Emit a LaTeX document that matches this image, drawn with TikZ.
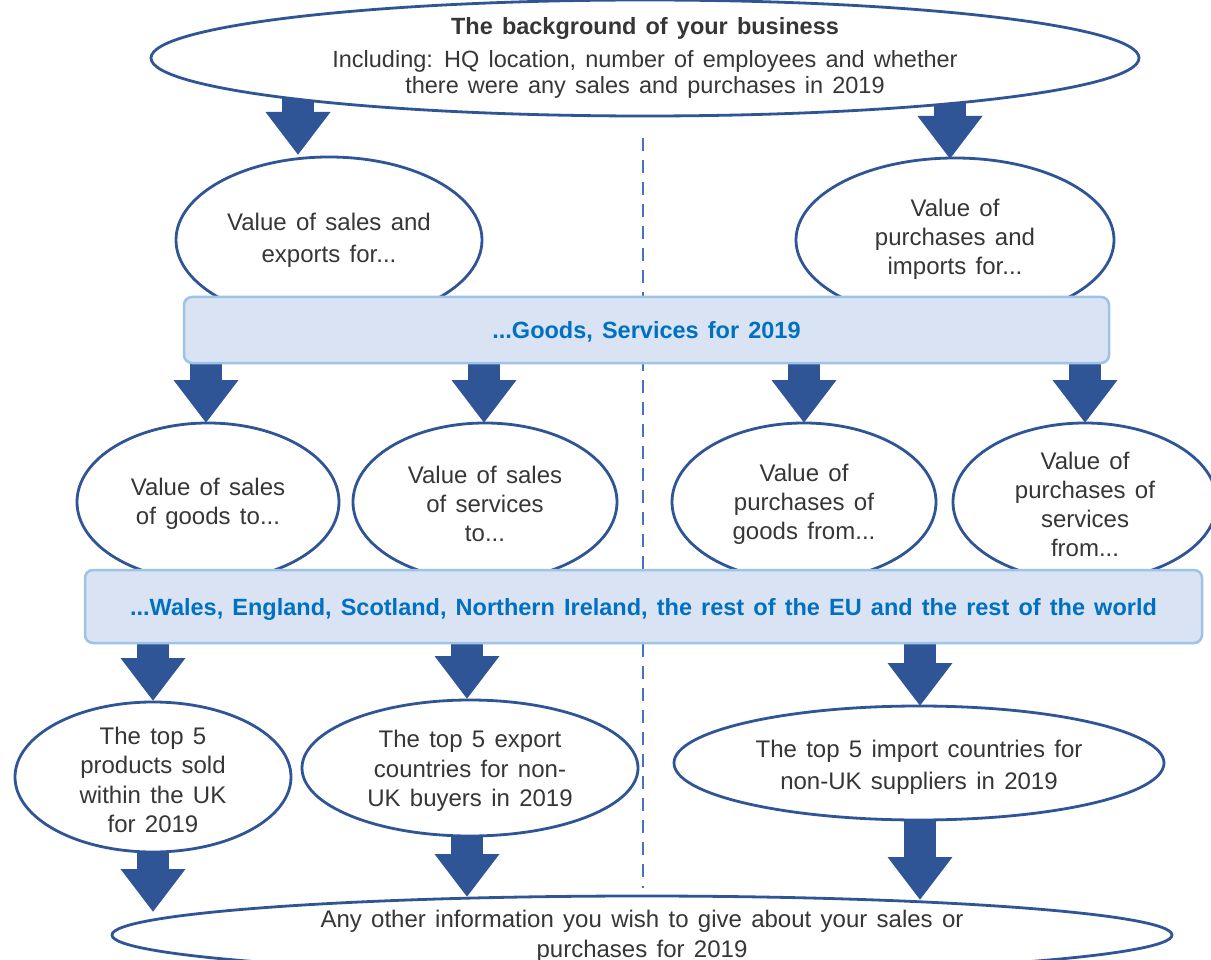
\documentclass[tikz,border=0pt]{standalone}
\usepackage{fontspec}
\setmainfont[WordSpace=1.4]{Liberation Sans}
\usetikzlibrary{shapes.geometric,arrows.meta,backgrounds}
\definecolor{dblue}{HTML}{2F5597}
\definecolor{bandfill}{HTML}{DAE3F3}
\definecolor{bandline}{HTML}{9DC3E6}
\definecolor{bandtext}{HTML}{0070C0}
\definecolor{dashc}{HTML}{4472C4}
\definecolor{txt}{HTML}{363636}
\begin{document}
\begin{tikzpicture}[x=1pt,y=-1pt,
  oval/.style={ellipse, draw=dblue, line width=2.8pt, fill=white, inner sep=0pt},
  lbl/.style={inner sep=0pt, align=center, text=txt, font=\fontsize{24}{29}\selectfont},
  band/.style={rectangle, draw=bandline, line width=2.5pt, fill=bandfill, rounded corners=8pt, inner sep=0pt, text=bandtext, font=\bfseries\fontsize{23.5}{28}\selectfont},
  barrow/.style={draw=dblue, line width=32pt, -{Triangle[width=62pt,length=43pt]}},
  divider/.style={draw=dashc, line width=2.4pt, dash pattern=on 13pt off 9pt},
]
\clip (0,0) rectangle (1211,960);

% shapes
\node[oval, minimum width=988pt, minimum height=116pt] (top) at (645,58) {};
\node[oval, minimum width=306pt, minimum height=166pt] (sal) at (329,240) {};
\node[oval, minimum width=318pt, minimum height=164pt] (pur) at (955,240) {};
\node[band, minimum width=925pt, minimum height=66pt] (band1) at (646.5,330) {};
\node[oval, minimum width=262pt, minimum height=158pt] (sg) at (208,502) {};
\node[oval, minimum width=264pt, minimum height=158pt] (ss) at (485,502) {};
\node[oval, minimum width=264pt, minimum height=158pt] (pg) at (804,502) {};
\node[oval, minimum width=264pt, minimum height=158pt] (ps) at (1085,502) {};
\node[band, minimum width=1117pt, minimum height=73pt] (band2) at (643.5,606.5) {};
\node[oval, minimum width=276pt, minimum height=150pt] (tp) at (153,777) {};
\node[oval, minimum width=336pt, minimum height=136pt] (te) at (470,768) {};
\node[oval, minimum width=490pt, minimum height=114pt] (ti) at (919,763) {};
\node[oval, minimum width=1060pt, minimum height=78pt] (any) at (642,935) {};

% texts
\node[lbl, font=\bfseries\fontsize{23.5}{28}\selectfont] (topT) at (645,28) {The background of your business};
\node[lbl, font=\fontsize{23.5}{26}\selectfont] (topT2) at (645,74)
  {Including: HQ location, number of employees and whether\\
   there were any sales and purchases in 2019};
\node[lbl, font=\fontsize{24}{32}\selectfont] (salT) at (329,240) {Value of sales and\\exports for...};
\node[lbl] (purT) at (955,239) {Value of\\purchases and\\imports for...};
\node[band, draw=none, fill=none] (band1T) at (646.5,332) {...Goods, Services for 2019};
\node[lbl] (sgT) at (208,504) {Value of sales\\of goods to...};
\node[lbl] (ssT) at (485,504) {Value of sales\\of services\\to...};
\node[lbl] (pgT) at (804,504) {Value of\\purchases of\\goods from...};
\node[lbl] (psT) at (1085,504) {Value of\\purchases of\\services\\from...};
\node[band, draw=none, fill=none] (band2T) at (643.5,609)
  {...Wales, England, Scotland, Northern Ireland, the rest of the EU and the rest of the world};
\node[lbl, font=\fontsize{24}{29.5}\selectfont] (tpT) at (153,780) {The top 5\\products sold\\within the UK\\for 2019};
\node[lbl, font=\fontsize{24}{29.5}\selectfont] (teT) at (470,771) {The top 5 export\\countries for non-\\UK buyers in 2019};
\node[lbl, font=\fontsize{24}{32}\selectfont] (tiT) at (919,767) {The top 5 import countries for\\non-UK suppliers in 2019};
\node[lbl, font=\fontsize{24}{30}\selectfont] (anyT) at (642,936) {Any other information you wish to give about your sales or\\purchases for 2019};

% coordinates for arrows and divider
\coordinate (d1) at (643,138);
\coordinate (d2) at (643,888);
\coordinate (a1s) at (298,95);   \coordinate (a1e) at (298,155);
\coordinate (a2s) at (950,95);   \coordinate (a2e) at (950,159);
\coordinate (b1s) at (206,355);  \coordinate (b1e) at (206,423);
\coordinate (b2s) at (484,355);  \coordinate (b2e) at (484,423);
\coordinate (b3s) at (804,355);  \coordinate (b3e) at (804,423);
\coordinate (b4s) at (1085,355); \coordinate (b4e) at (1085,423);
\coordinate (c1s) at (153,635);  \coordinate (c1e) at (153,701);
\coordinate (c2s) at (467,635);  \coordinate (c2e) at (467,699);
\coordinate (c3s) at (920,635);  \coordinate (c3e) at (920,706);
\coordinate (e1s) at (153,845);  \coordinate (e1e) at (153,912);
\coordinate (e2s) at (467,830);  \coordinate (e2e) at (467,897);
\coordinate (e3s) at (920,812);  \coordinate (e3e) at (920,900);

\begin{scope}[on background layer]
  \fill[white] (0,0) rectangle (1211,960);
  \draw[divider] (d1) -- (d2);
  \foreach \s/\e in {a1s/a1e,a2s/a2e,b1s/b1e,b2s/b2e,b3s/b3e,b4s/b4e,c1s/c1e,c2s/c2e,c3s/c3e,e1s/e1e,e2s/e2e,e3s/e3e}
    \draw[barrow] (\s) -- (\e);
\end{scope}
\end{tikzpicture}
\end{document}
